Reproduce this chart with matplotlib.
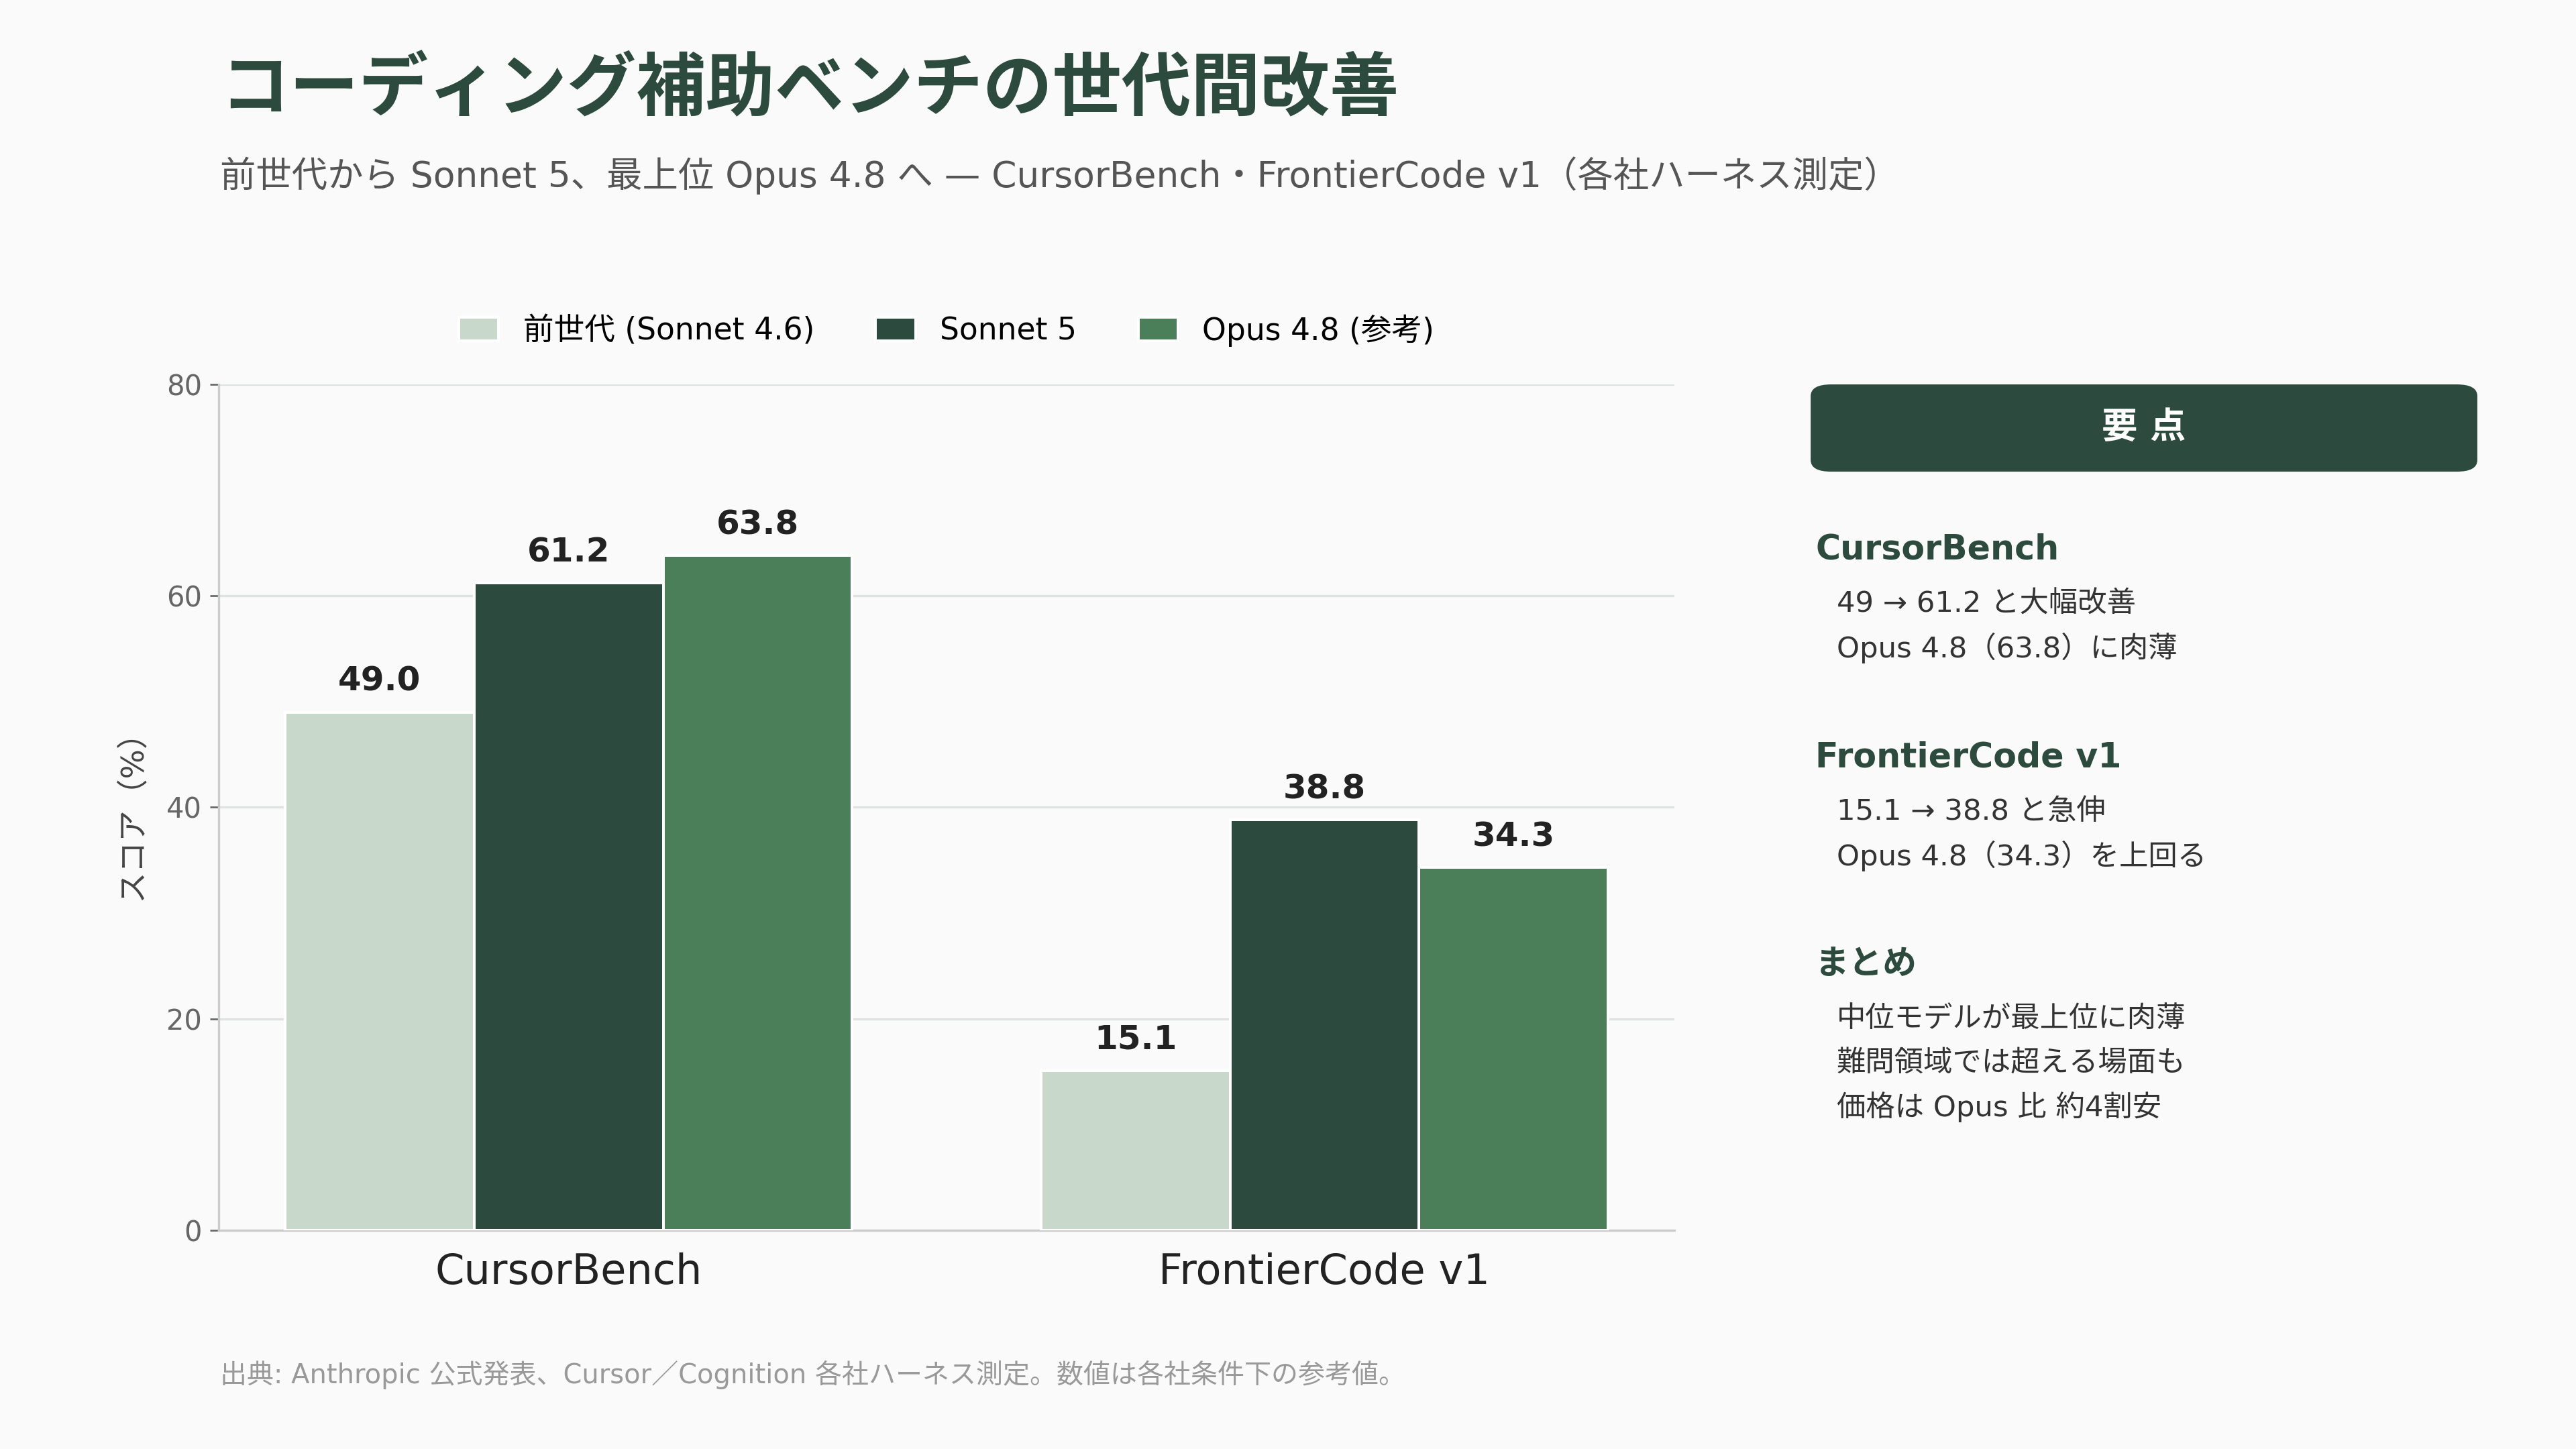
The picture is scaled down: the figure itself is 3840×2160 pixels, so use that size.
import numpy as np
import matplotlib
matplotlib.use("Agg")
import matplotlib.pyplot as plt
from matplotlib.patches import FancyBboxPatch

plt.rcParams['font.family'] = ['DejaVu Sans', 'Noto Sans CJK JP']

# ---- data ----
benchmarks = ["CursorBench", "FrontierCode v1"]
series_names = ["前世代 (Sonnet 4.6)", "Sonnet 5", "Opus 4.8 (参考)"]
prev_gen = [49.0, 15.1]
sonnet5 = [61.2, 38.8]
opus48 = [63.8, 34.3]
colors = ["#c8d9cc", "#2d4a3e", "#4a7f5a"]
yticks = [0, 20, 40, 60, 80]

title = "コーディング補助ベンチの世代間改善"
subtitle = "前世代から Sonnet 5、最上位 Opus 4.8 へ — CursorBench・FrontierCode v1（各社ハーネス測定）"
footer = "出典: Anthropic 公式発表、Cursor／Cognition 各社ハーネス測定。数値は各社条件下の参考値。"
panel = [
    ("CursorBench", ["49 → 61.2 と大幅改善", "Opus 4.8（63.8）に肉薄"]),
    ("FrontierCode v1", ["15.1 → 38.8 と急伸", "Opus 4.8（34.3）を上回る"]),
    ("まとめ", ["中位モデルが最上位に肉薄", "難問領域では超える場面も", "価格は Opus 比 約4割安"]),
]

dark = "#2d4a3e"
bg = "#fafafa"

fig = plt.figure(figsize=(16, 9), dpi=240, facecolor=bg)
ax = fig.add_axes([0.0849, 0.151, 0.5651, 0.5837], facecolor=bg)

x = np.arange(len(benchmarks))
w = 0.25
for i, (vals, name, c) in enumerate(zip([prev_gen, sonnet5, opus48], series_names, colors)):
    bars = ax.bar(x + (i - 1) * w, vals, w, color=c, edgecolor="white", linewidth=1.2,
                  label=name, zorder=3)
    for b, v in zip(bars, vals):
        ax.text(b.get_x() + b.get_width() / 2, v + 1.4, f"{v:.1f}", ha="center", va="bottom",
                fontsize=15, fontweight="bold", color="#222222")

ax.set_xlim(-0.463, 1.463)
ax.set_ylim(0, 80)
ax.set_yticks(yticks)
ax.set_xticks(x)
ax.set_xticklabels(benchmarks, fontsize=18.7, color="#222222")
ax.tick_params(axis="x", length=0, pad=10)
ax.tick_params(axis="y", labelsize=12.5, labelcolor="#666666", color="#666666", length=4)
ax.set_ylabel("スコア（%）", fontsize=14, color="#444444", labelpad=8)
ax.grid(axis="y", color="#dde3e0", linewidth=1.0, zorder=0)
for s in ["top", "right"]:
    ax.spines[s].set_visible(False)
for s in ["left", "bottom"]:
    ax.spines[s].set_color("#cccccc")
    ax.spines[s].set_linewidth(1.0)

leg = ax.legend(loc="lower center", bbox_to_anchor=(0.5, 1.012), ncol=3, frameon=False,
                fontsize=13.7, handlelength=1.3, handleheight=0.8, columnspacing=2.0)

# title / subtitle
fig.text(0.0854, 0.937, title, fontsize=31, fontweight="bold", color=dark, va="center")
fig.text(0.0854, 0.879, subtitle, fontsize=16, color="#555555", va="center")

# side panel
box = FancyBboxPatch((0.7029, 0.6745), 0.2588, 0.0602, boxstyle="round,pad=0,rounding_size=0.008",
                     transform=fig.transFigure, facecolor=dark, edgecolor="none")
fig.patches.append(box)
fig.text(0.8323, 0.7046, "要 点", fontsize=16, fontweight="bold", color="white", ha="center", va="center")

head_y = [0.6204, 0.4773, 0.3343]
for (head, lines), hy in zip(panel, head_y):
    fig.text(0.7047, hy, head, fontsize=15.2, fontweight="bold", color=dark, va="center")
    for j, ln in enumerate(lines):
        fig.text(0.7130, hy - 0.0375 - j * 0.0303, ln, fontsize=13, color="#333333", va="center")

fig.text(0.0854, 0.051, footer, fontsize=12, color="#999999", va="center")

fig.savefig("out.png", dpi=240, facecolor=bg)
